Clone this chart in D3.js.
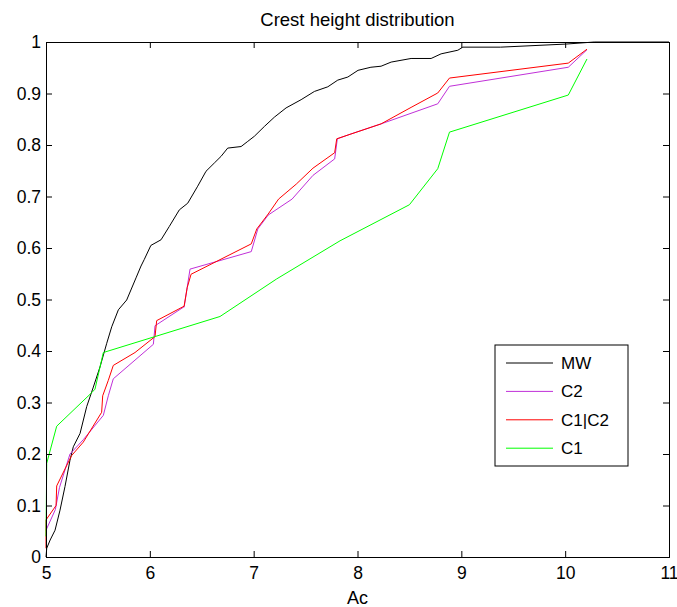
<!DOCTYPE html>
<html>
<head>
<meta charset="utf-8">
<script src="https://cdn.jsdelivr.net/npm/d3@7"></script>
<style>
  body { margin: 0; background: #fff; }
  text { font-family: "Liberation Sans", Arial, sans-serif; }
</style>
</head>
<body>
<div id="chart"></div>
<script>
const w = 677;
const h = 607;
const margin = { top: 42, right: 8, bottom: 50, left: 46 };

// values (Ac, cumulative probability)
const mw = [[5.0,0.0],[5.007,0.017],[5.04,0.033],[5.087,0.052],[5.135,0.091],[5.183,0.137],
  [5.231,0.188],[5.263,0.214],[5.328,0.240],[5.392,0.292],[5.456,0.330],[5.520,0.369],
  [5.585,0.415],[5.633,0.447],[5.697,0.480],[5.777,0.499],[5.867,0.542],[5.915,0.565],
  [5.947,0.578],[6.01,0.605],[6.108,0.616],[6.188,0.642],[6.284,0.674],[6.365,0.687],
  [6.461,0.720],[6.541,0.749],[6.621,0.765],[6.686,0.778],[6.750,0.794],[6.879,0.797],
  [6.943,0.807],[7.007,0.817],[7.103,0.836],[7.199,0.854],[7.312,0.872],[7.457,0.888],
  [7.585,0.904],[7.714,0.913],[7.810,0.926],[7.907,0.932],[8.005,0.945],[8.129,0.951],
  [8.227,0.953],[8.324,0.961],[8.516,0.968],[8.709,0.968],[8.805,0.977],[8.966,0.984],
  [9.014,0.990],[9.378,0.990],[10.01,0.996],[10.28,1.0],[11,1.0]];

const c2 = [[5.0,0.052],[5.09,0.092],[5.13,0.135],[5.231,0.20],[5.36,0.228],[5.552,0.275],
  [5.60,0.313],[5.648,0.346],[6.034,0.413],[6.05,0.449],[6.323,0.485],[6.33,0.485],
  [6.387,0.559],[6.977,0.593],[7.04,0.637],[7.14,0.664],[7.37,0.695],[7.571,0.741],
  [7.78,0.773],[7.806,0.812],[7.93,0.821],[8.227,0.841],[8.773,0.880],[8.886,0.914],
  [10.03,0.951],[10.21,0.985]];

const c1c2 = [[5.0,0.017],[5.0,0.072],[5.097,0.10],[5.103,0.138],[5.183,0.171],[5.247,0.197],
  [5.359,0.223],[5.536,0.281],[5.546,0.313],[5.60,0.343],[5.648,0.372],[5.857,0.397],
  [6.05,0.428],[6.066,0.459],[6.33,0.487],[6.36,0.523],[6.397,0.549],[6.977,0.608],
  [7.03,0.637],[7.14,0.666],[7.24,0.695],[7.41,0.724],[7.571,0.755],[7.78,0.785],
  [7.80,0.812],[8.227,0.841],[8.516,0.873],[8.773,0.901],[8.886,0.930],[10.03,0.959],
  [10.21,0.986]];

const c1 = [[5.0,0.04],[5.007,0.182],[5.103,0.254],[5.44,0.319],[5.472,0.326],[5.552,0.397],
  [6.676,0.467],[7.222,0.54],[7.832,0.614],[8.5,0.684],[8.773,0.754],[8.886,0.825],
  [10.03,0.897],[10.21,0.967]];

const seriesNames = ['MW', 'C2', 'C1|C2', 'C1'];
const seriesColors = ['#000000', '#c030d8', '#ff0000', '#00ff00'];
const xTicks = [5, 6, 7, 8, 9, 10, 11];
const yTicks = [0, 0.1, 0.2, 0.3, 0.4, 0.5, 0.6, 0.7, 0.8, 0.9, 1];

const series = [mw, c2, c1c2, c1];

const svg = d3.select('#chart')
    .append('svg')
    .attr('width', w)
    .attr('height', h);

const x = d3.scaleLinear().domain([5, 11]).range([margin.left, w - margin.right]);
const y = d3.scaleLinear().domain([0, 1]).range([h - margin.bottom, margin.top]);

const fmt = d => (d === 0 || d === 1) ? String(d) : d.toFixed(1);

// lines
const line = d3.line().x(d => x(d[0])).y(d => y(d[1]));
series.forEach((s, i) => {
    svg.append('path')
        .datum(s)
        .attr('fill', 'none')
        .attr('stroke', seriesColors[i])
        .attr('stroke-width', 1)
        .attr('d', line);
});

// axes, MATLAB style box with inward ticks
svg.append('g')
    .attr('transform', 'translate(0,' + (h - margin.bottom) + ')')
    .call(d3.axisBottom(x).tickValues(xTicks).tickSize(-6).tickPadding(10).tickFormat(d3.format('d')))
    .call(g => g.selectAll('text').style('font-size', '17.5px').attr('fill', '#000'));

svg.append('g')
    .attr('transform', 'translate(' + margin.left + ',0)')
    .call(d3.axisLeft(y).tickValues(yTicks).tickSize(-6).tickPadding(5).tickFormat(fmt))
    .call(g => g.selectAll('text').style('font-size', '17.5px').attr('fill', '#000'));

svg.append('g')
    .attr('transform', 'translate(0,' + margin.top + ')')
    .call(d3.axisTop(x).tickValues(xTicks).tickSize(-6).tickFormat(''));

svg.append('g')
    .attr('transform', 'translate(' + (w - margin.right) + ',0)')
    .call(d3.axisRight(y).tickValues(yTicks).tickSize(-6).tickFormat(''));

svg.selectAll('.domain').attr('stroke', '#000');
svg.selectAll('.tick line').attr('stroke', '#000');

// title and axis label
svg.append('text')
    .attr('x', (margin.left + w - margin.right) / 2)
    .attr('y', 26)
    .attr('text-anchor', 'middle')
    .style('font-size', '18.5px')
    .text('Crest height distribution');

svg.append('text')
    .attr('x', (margin.left + w - margin.right) / 2)
    .attr('y', 604)
    .attr('text-anchor', 'middle')
    .style('font-size', '18px')
    .text('Ac');

// legend
const legend = svg.append('g').attr('transform', 'translate(495,345)');
legend.append('rect')
    .attr('width', 133)
    .attr('height', 121)
    .attr('fill', '#fff')
    .attr('stroke', '#000');

seriesNames.forEach((name, i) => {
    const ly = 18 + i * 28.4;
    legend.append('line')
        .attr('x1', 11).attr('x2', 58)
        .attr('y1', ly).attr('y2', ly)
        .attr('stroke', seriesColors[i])
        .attr('stroke-width', 1);
    legend.append('text')
        .attr('x', 66)
        .attr('y', ly + 6)
        .style('font-size', '17px')
        .text(name);
});
</script>
</body>
</html>
